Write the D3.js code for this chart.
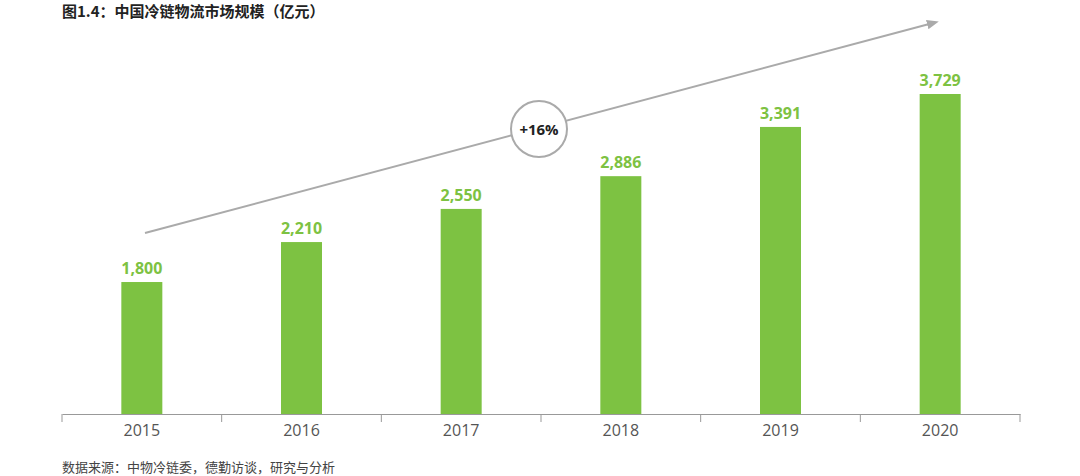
<!DOCTYPE html><html><head><meta charset="utf-8"><script src="https://cdn.jsdelivr.net/npm/d3@7"></script>
<style>body{margin:0;background:#fff}</style></head><body><svg id="c" width="1080" height="476"></svg>
<script>
const categories=["2015","2016","2017","2018","2019","2020"];
const values=[1800,2210,2550,2886,3391,3729];
const labels=["1,800","2,210","2,550","2,886","3,391","3,729"];
const svg=d3.select("#c");
const F="'Noto Sans CJK SC','Open Sans',sans-serif";
const x=d3.scaleBand().domain(categories).range([62,1020]);
const y=d3.scaleLinear().domain([446,3729]).range([414,94]);
svg.append("text").attr("x",62).attr("y",17).attr("font-family",F).attr("font-weight","bold").attr("font-size",15).attr("fill","#222").text("图1.4：中国冷链物流市场规模（亿元）");
const bw=41;
svg.selectAll(".b").data(values).join("rect").attr("x",(d,i)=>x(categories[i])+x.bandwidth()/2-bw/2).attr("width",bw).attr("y",d=>y(d)).attr("height",d=>414-y(d)).attr("fill","#7dc242");
svg.selectAll(".l").data(values).join("text").attr("x",(d,i)=>x(categories[i])+x.bandwidth()/2).attr("y",d=>y(d)-8).attr("text-anchor","middle").attr("font-family","'Open Sans',sans-serif").attr("font-weight","bold").attr("font-size",16).attr("fill","#7dc242").text((d,i)=>labels[i]);
const ax=svg.append("g").attr("transform","translate(0,414)").call(d3.axisBottom(x).tickSize(0).tickPadding(11));
ax.select(".domain").attr("stroke","#999");
ax.selectAll("text").attr("font-family","'Open Sans',sans-serif").attr("font-size",16).attr("fill","#555");
const edges=categories.map(c=>x(c)).concat([x.range()[1]]);
svg.selectAll(".t").data(edges).join("line").attr("x1",d=>d).attr("x2",d=>d).attr("y1",414).attr("y2",422).attr("stroke","#999");
const defs=svg.append("defs");
defs.append("marker").attr("id","ar").attr("viewBox","0 0 10 10").attr("refX",5).attr("refY",5).attr("markerWidth",6).attr("markerHeight",6).attr("orient","auto").append("path").attr("d","M0,1L10,5L0,9Z").attr("fill","#aaa");
svg.append("line").attr("x1",145).attr("y1",233).attr("x2",933).attr("y2",23).attr("stroke","#aaa").attr("stroke-width",2).attr("marker-end","url(#ar)");
svg.append("circle").attr("cx",539).attr("cy",129).attr("r",28).attr("fill","#fff").attr("stroke","#aaa").attr("stroke-width",2);
svg.append("text").attr("x",539).attr("y",135).attr("text-anchor","middle").attr("font-family","'Open Sans',sans-serif").attr("font-weight","bold").attr("font-size",15).attr("fill","#222").text("+16%");
svg.append("text").attr("x",62).attr("y",472).attr("font-family",F).attr("font-size",13).attr("fill","#444").text("数据来源：中物冷链委，德勤访谈，研究与分析");
</script></body></html>
